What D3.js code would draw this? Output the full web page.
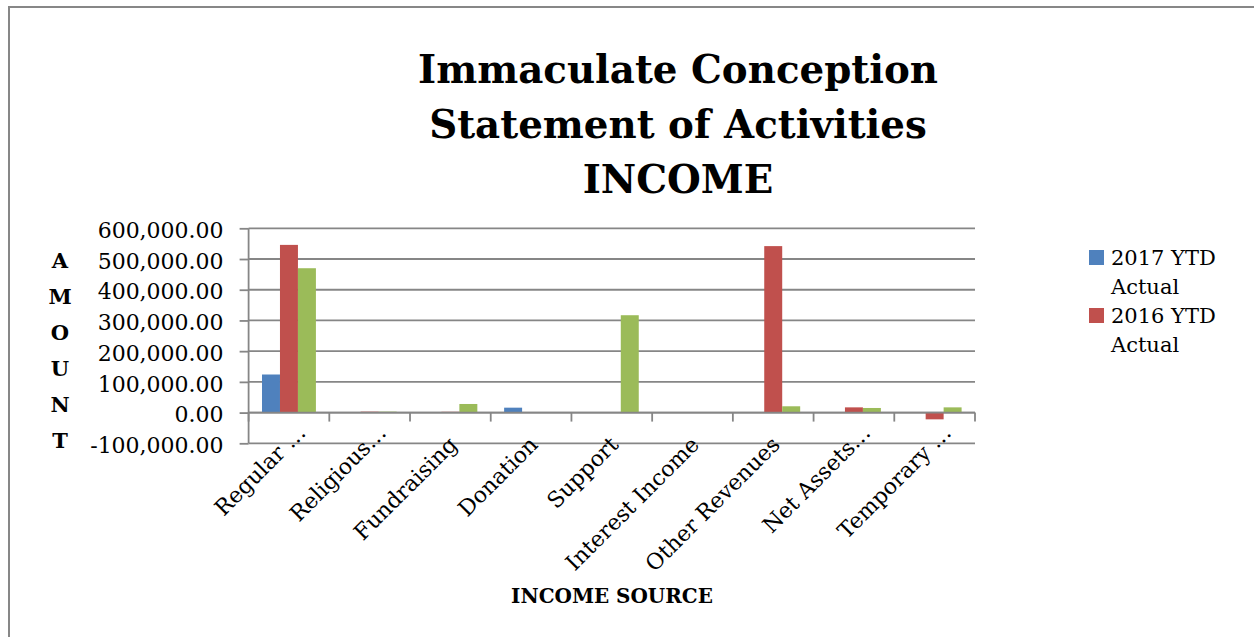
<!DOCTYPE html>
<html>
<head>
<meta charset="utf-8">
<script src="https://cdn.jsdelivr.net/npm/d3@7"></script>
<style>
  html, body { margin: 0; padding: 0; background: #fff; }
</style>
</head>
<body>
<svg id="chart" width="1254" height="637" font-family="DejaVu Serif, serif"></svg>
<script>
// ---- data ----
const categories = ["Regular …", "Religious…", "Fundraising", "Donation", "Support",
                    "Interest Income", "Other Revenues", "Net Assets…", "Temporary …"];
const series2017 = [124000, 1500, 1000, 16000, 0, 0, 1000, 0, 0];
const series2016 = [546000, 3000, 2500, 1500, 0, 0, 542000, 17000, -22000];
const series3 = [470000, 3000, 28000, 0, 317000, 0, 20500, 15000, 17000];
const seriesNames = ["2017 YTD Actual", "2016 YTD Actual", "Series 3"];
const seriesColors = ["#4F81BD", "#C0504D", "#9BBB59"];
const yTicks = [-100000, 0, 100000, 200000, 300000, 400000, 500000, 600000];
const titleLines = ["Immaculate Conception", "Statement of Activities", "INCOME"];
const yAxisTitle = "AMOUNT";
const xAxisTitle = "INCOME SOURCE";
const legendEntries = [["2017 YTD", "Actual"], ["2016 YTD", "Actual"]];

const allSeries = [series2017, series2016, series3];

// ---- layout ----
const svg = d3.select("#chart");
const plot = { left: 248.6, right: 975, top: 228.3, bottom: 443.3 };

// outer border: left and top edges (the rest lies outside the picture)
svg.append("line").attr("x1", 9).attr("x2", 9).attr("y1", 6).attr("y2", 637)
  .attr("stroke", "#878787").attr("stroke-width", 2);
svg.append("line").attr("x1", 8).attr("x2", 1254).attr("y1", 7).attr("y2", 7)
  .attr("stroke", "#878787").attr("stroke-width", 2);

const x = d3.scaleBand().domain(categories).range([plot.left, plot.right]).paddingInner(0).paddingOuter(0);
const y = d3.scaleLinear().domain([-100000, 600000]).range([plot.bottom, plot.top]);
const groupPad = 0.166;
const innerStart = x.bandwidth() * groupPad;
const innerWidth = x.bandwidth() * (1 - 2 * groupPad);
const xs = d3.scaleBand().domain(d3.range(allSeries.length))
  .range([innerStart, innerStart + innerWidth]).paddingInner(0).paddingOuter(0);

// gridlines
svg.append("g")
  .selectAll("line").data(yTicks).join("line")
  .attr("x1", plot.left).attr("x2", plot.right)
  .attr("y1", d => y(d)).attr("y2", d => y(d))
  .attr("stroke", "#868686").attr("stroke-width", 1.8);

// y axis
const yAxis = d3.axisLeft(y).tickValues(yTicks).tickSize(9).tickPadding(16)
  .tickFormat(d => d3.format(",.2f")(d).replace("−", "-"));
const gy = svg.append("g").attr("transform", `translate(${plot.left},0)`).call(yAxis);
gy.attr("font-family", "DejaVu Serif, serif").attr("font-size", 22);
gy.select(".domain").attr("stroke", "#868686").attr("stroke-width", 1.8)
  .attr("d", `M0,${plot.top}V${plot.bottom}`);
gy.selectAll(".tick line").attr("stroke", "#868686").attr("stroke-width", 1.8);
gy.selectAll(".tick text").attr("fill", "#000").attr("dy", "0.42em");

// bars
allSeries.forEach((vals, si) => {
  svg.append("g").selectAll("rect").data(vals).join("rect")
    .attr("x", (d, i) => x(categories[i]) + xs(si))
    .attr("width", xs.bandwidth())
    .attr("y", d => y(Math.max(0, d)))
    .attr("height", d => Math.abs(y(d) - y(0)))
    .attr("fill", seriesColors[si]);
});

// x axis (at zero)
const xAxis = d3.axisBottom(x).tickSize(0).tickFormat("");
const gx = svg.append("g").attr("transform", `translate(0,${y(0)})`).call(xAxis);
gx.select(".domain").attr("stroke", "#868686").attr("stroke-width", 1.8)
  .attr("d", `M${plot.left},0H${plot.right}`);
const bounds = categories.map(c => x(c)).concat([plot.right]);
gx.append("g").selectAll("line").data(bounds).join("line")
  .attr("x1", d => d).attr("x2", d => d).attr("y1", 0).attr("y2", 9)
  .attr("stroke", "#868686").attr("stroke-width", 1.8);

// x labels rotated
svg.append("g").selectAll("text").data(categories).join("text")
  .attr("transform", d => {
    const cx = x(d) + x.bandwidth() / 2;
    const trunc = d.includes("…");
    const px = cx + (trunc ? 18 : 8);
    const py = trunc ? 434 : 446;
    return `translate(${px},${py}) rotate(-45)`;
  })
  .attr("text-anchor", "end")
  .attr("font-size", 22)
  .text(d => d);

// title
function fitSize(sel, target) {
  const w = sel.node().getComputedTextLength();
  const fs = parseFloat(sel.attr("font-size"));
  sel.attr("font-size", fs * target / w);
}
const titleBase = [83, 138, 193];
const titleSel = titleLines.map((t, i) => svg.append("text").attr("x", 678).attr("y", titleBase[i])
    .attr("text-anchor", "middle").attr("font-weight", "bold")
    .attr("font-size", 44).text(t));
fitSize(titleSel[0], 520);
titleSel.forEach(s => s.attr("font-size", titleSel[0].attr("font-size")));

// y axis title (stacked letters)
const yTitleY = [268, 304, 340, 376, 412, 448];
svg.append("g").selectAll("text").data(yAxisTitle.split("")).join("text")
  .attr("x", 60).attr("y", (d, i) => yTitleY[i])
  .attr("text-anchor", "middle").attr("font-weight", "bold").attr("font-size", 21)
  .text(d => d);

// x axis title
const xt = svg.append("text").attr("x", 612).attr("y", 603).attr("text-anchor", "middle")
  .attr("font-weight", "bold")
  .attr("font-size", 22).text(xAxisTitle);
fitSize(xt, 202);

// legend
const legY = [250, 308];
legendEntries.forEach((lines, i) => {
  svg.append("rect").attr("x", 1089).attr("y", legY[i]).attr("width", 15).attr("height", 15)
    .attr("fill", seriesColors[i]);
  svg.append("text").attr("x", 1111).attr("y", legY[i] + 15).attr("font-size", 21).text(lines[0]);
  svg.append("text").attr("x", 1111).attr("y", legY[i] + 44).attr("font-size", 21).text(lines[1]);
});
</script>
</body>
</html>
